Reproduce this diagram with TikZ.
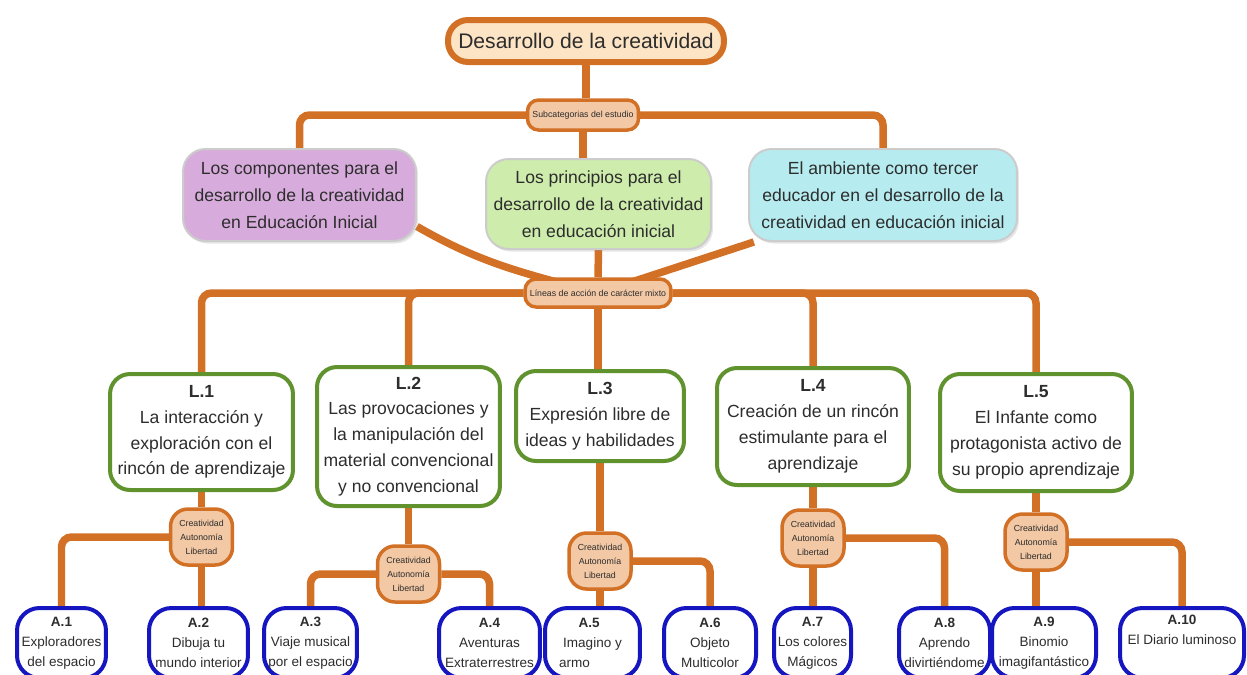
\documentclass[tikz,border=0pt]{standalone}
\usepackage{fontspec}
\setmainfont{Liberation Sans}
\usetikzlibrary{backgrounds,shadows}

\definecolor{conn}{RGB}{210,112,38}
\definecolor{titlefill}{RGB}{253,228,196}
\definecolor{tanfill}{RGB}{242,200,165}
\definecolor{purpfill}{RGB}{215,172,220}
\definecolor{greenfill}{RGB}{206,236,172}
\definecolor{cyanfill}{RGB}{182,236,240}
\definecolor{lgreen}{RGB}{96,146,46}
\definecolor{ablue}{RGB}{22,22,192}
\definecolor{txt}{RGB}{45,45,45}

\newcommand\fsTitle{\fontsize{12}{14}\selectfont}
\newcommand\fsCat{\fontsize{10}{15.3}\selectfont}
\newcommand\fsLine{\fontsize{10}{14.7}\selectfont}
\newcommand\fsAct{\fontsize{7.7}{11.3}\selectfont}
\newcommand\fsTiny{\fontsize{5}{7.9}\selectfont}

\tikzset{
  titlebox/.style={draw=conn, line width=0.12cm, fill=titlefill, rounded corners=0.4cm,
    minimum width=5.52cm, minimum height=0.84cm, inner sep=0pt, font=\fsTitle, text=txt},
  tinybox/.style={draw=conn, line width=0.07cm, fill=tanfill, rounded corners=0.22cm,
    inner sep=0pt, font=\fsTiny, text=txt, align=center},
  knot/.style={tinybox, minimum width=1.24cm, minimum height=1.12cm, rounded corners=0.35cm},
  catbox/.style={draw=black!20, line width=0.04cm, rounded corners=0.45cm, inner sep=0pt,
    font=\fsCat, align=center, text=txt,
    drop shadow={opacity=0.2, shadow xshift=0.04cm, shadow yshift=-0.05cm}},
  linebox/.style={draw=lgreen, line width=0.08cm, fill=white, rounded corners=0.4cm,
    inner sep=0pt, font=\fsLine, align=center, text=txt},
  actbox/.style={draw=ablue, line width=0.08cm, fill=white, rounded corners=0.45cm,
    minimum height=1.40cm, inner sep=0pt, font=\fsAct, align=center, text=txt},
  link/.style={draw=conn, line width=0.15cm, rounded corners=0.2cm},
}

\begin{document}
\begin{tikzpicture}[x=0.02cm, y=-0.02cm]
  \useasboundingbox (0,0) rectangle (1247,674);

  % titulo y subcategorias
  \node[titlebox] (title) at (586,41) {Desarrollo de la creatividad};
  \node[tinybox, minimum width=2.22cm, minimum height=0.6cm] (sub) at (583,115) {Subcategorias del estudio};

  \node[catbox, fill=purpfill, minimum width=4.66cm, minimum height=1.84cm] (comp) at (299.5,195)
    {Los componentes para el\\desarrollo de la creatividad\\en Educación Inicial};
  \node[catbox, fill=greenfill, minimum width=4.50cm, minimum height=1.80cm] (prin) at (598.5,204)
    {Los principios para el\\desarrollo de la creatividad\\en educación inicial};
  \node[catbox, fill=cyanfill, minimum width=5.36cm, minimum height=1.84cm] (amb) at (883,195)
    {El ambiente como tercer\\educador en el desarrollo de la\\creatividad en educación inicial};

  \node[tinybox, minimum width=2.92cm, minimum height=0.56cm] (lin) at (598,293) {Líneas de acción de carácter mixto};

  % lineas de accion
  \node[linebox, minimum width=3.66cm, minimum height=2.32cm] (l1) at (201.5,432)
    {\textbf{L.1}\\La interacción y\\exploración con el\\rincón de aprendizaje};
  \node[linebox, minimum width=3.66cm, minimum height=2.78cm] (l2) at (408.5,436.5)
    {\textbf{L.2}\\Las provocaciones y\\la manipulación del\\material convencional\\y no convencional};
  \node[linebox, minimum width=3.36cm, minimum height=1.80cm] (l3) at (600,416)
    {\textbf{L.3}\\Expresión libre de\\ideas y habilidades};
  \node[linebox, minimum width=3.84cm, minimum height=2.34cm] (l4) at (813,426.5)
    {\textbf{L.4}\\Creación de un rincón\\estimulante para el\\aprendizaje};
  \node[linebox, minimum width=3.84cm, minimum height=2.34cm] (l5) at (1036,432.5)
    {\textbf{L.5}\\El Infante como\\protagonista activo de\\su propio aprendizaje};

  % nudos
  \node[knot] (j1) at (201.5,537) {Creatividad\\Autonomía\\Libertad};
  \node[knot] (j2) at (408.5,574) {Creatividad\\Autonomía\\Libertad};
  \node[knot] (j3) at (600,561) {Creatividad\\Autonomía\\Libertad};
  \node[knot] (j4) at (813,538) {Creatividad\\Autonomía\\Libertad};
  \node[knot] (j5) at (1036,542) {Creatividad\\Autonomía\\Libertad};

  % actividades
  \node[actbox, minimum width=1.78cm] (a1) at (61.5,643) {\textbf{A.1}\\Exploradores\\del espacio};
  \node[actbox, minimum width=1.98cm] (a2) at (198.5,643) {\textbf{A.2}\\Dibuja tu\\mundo interior};
  \node[actbox, minimum width=1.86cm] (a3) at (310.5,643) {\textbf{A.3}\\Viaje musical\\por el espacio};
  \node[actbox, minimum width=2.02cm] (a4) at (489.5,643) {\textbf{A.4}\\Aventuras\\Extraterrestres};
  \node[actbox, minimum width=1.90cm] (a5) at (592.5,643) {\textbf{A.5}\hphantom{y}\\Imagino y\\armo\hphantom{gino y}};
  \node[actbox, minimum width=1.84cm] (a6) at (710,643) {\textbf{A.6}\\Objeto\\Multicolor};
  \node[actbox, minimum width=1.54cm] (a7) at (812.5,643) {\textbf{A.7}\\Los colores\\Mágicos};
  \node[actbox, minimum width=1.82cm] (a8) at (944.5,643) {\textbf{A.8}\\Aprendo\\divirtiéndome};
  \node[actbox, minimum width=2.08cm] (a9) at (1044,643) {\textbf{A.9}\\Binomio\\imagifantástico};
  \node[actbox, minimum width=2.48cm] (a10) at (1182,643) {\textbf{A.10}\\El Diario luminoso\\\strut};

  \begin{pgfonlayer}{background}
    \draw[link] (title.south) -- (title.south |- sub.north);
    \draw[link] (sub.west) -| (comp.north);
    \draw[link] (sub.east) -| (amb.north);
    \draw[link] (sub.south) -- (sub.south |- prin.north);
    \draw[link] (comp.-15) to[out=-30,in=165] (lin.center);
    \draw[link] (prin.south) -- (lin.north);
    \draw[link] (amb.-160) -- (lin.center);

    \draw[link] (lin.west) -| (l1.north);
    \draw[link] (lin.west) -| (l2.north);
    \draw[link] (lin.south) -- (lin.south |- l3.north);
    \draw[link] (lin.east) -| (l4.north);
    \draw[link] (lin.east) -| (l5.north);

    \draw[link] (l1) -- (j1);
    \draw[link] (l2) -- (j2);
    \draw[link] (l3) -- (j3);
    \draw[link] (l4) -- (j4);
    \draw[link] (l5) -- (j5);

    \draw[link] (j1.west) -| (a1.north);
    \draw[link] (j1.south) -- (j1.south |- a2.north);
    \draw[link] (j2.west) -| (a3.north);
    \draw[link] (j2.east) -| (a4.north);
    \draw[link] (j3.south) -- (j3.south |- a5.north);
    \draw[link] (j3.east) -| (a6.north);
    \draw[link] (j4.south) -- (j4.south |- a7.north);
    \draw[link] (j4.east) -| (a8.north);
    \draw[link] (j5.south) -- (j5.south |- a9.north);
    \draw[link] (j5.east) -| (a10.north);
  \end{pgfonlayer}
\end{tikzpicture}
\end{document}
